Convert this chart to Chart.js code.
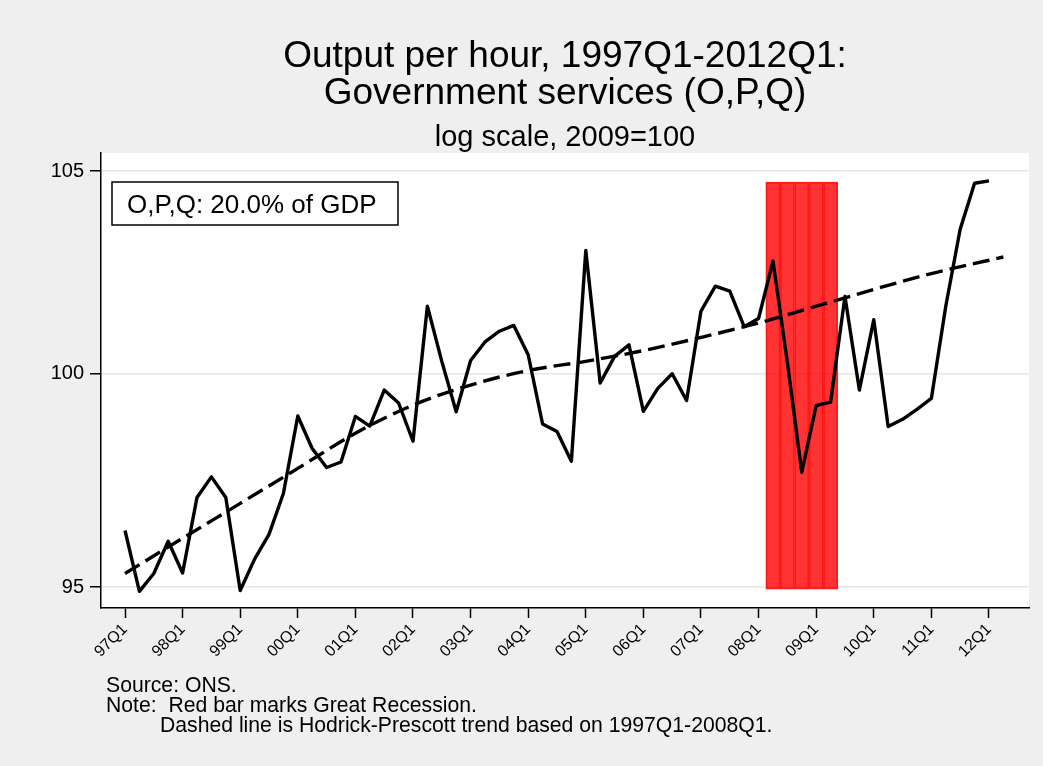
<!DOCTYPE html>
<html>
<head>
<meta charset="utf-8">
<script src="https://cdn.jsdelivr.net/npm/chart.js@4/dist/chart.umd.min.js"></script>
<style>
  html, body { margin: 0; padding: 0; background: #efefef; }
  #wrap { width: 1043px; height: 766px; }
</style>
</head>
<body>
<div id="wrap"><canvas id="chart" width="1043" height="766"></canvas></div>
<script>
// quarterly output per hour, 97Q1 .. 12Q1 (log scale, 2009=100)
const outputPerHour = [
  96.30, 94.90, 95.31, 96.05, 95.32, 97.07, 97.55, 97.07,
  94.92, 95.64, 96.21, 97.16, 98.99, 98.22, 97.77, 97.90,
  98.98, 98.75, 99.61, 99.30, 98.39, 101.64, 100.30, 99.09,
  100.32, 100.77, 101.03, 101.17, 100.46, 98.80, 98.62, 97.92,
  103.01, 99.78, 100.42, 100.70, 99.10, 99.65, 100.00, 99.36,
  101.52, 102.13, 102.01, 101.14, 101.34, 102.75, 100.27, 97.66,
  99.24, 99.32, 101.88, 99.61, 101.31, 98.74, 98.91, 99.15,
  99.41, 101.64, 103.54, 104.69, 104.75
];

// Hodrick-Prescott trend, read at each Q1 (plus 12Q2)
const trendQuarter = [0, 4, 8, 12, 16, 20, 24, 28, 32, 36, 40, 44, 48, 52, 56, 60, 61];
const trendValues = [95.31, 96.12, 96.93, 97.75, 98.58, 99.25, 99.73, 100.08, 100.30,
                     100.56, 100.88, 101.23, 101.64, 102.05, 102.44, 102.77, 102.85];

// Great Recession quarters 08Q2..09Q2 (index from 97Q1)
const recessionQuarter = [45, 46, 47, 48, 49];
const recessionRange = [94.95, 104.72];

const tickLabels = ['97Q1', '98Q1', '99Q1', '00Q1', '01Q1', '02Q1', '03Q1', '04Q1',
                    '05Q1', '06Q1', '07Q1', '08Q1', '09Q1', '10Q1', '11Q1', '12Q1'];
const yTicks = [95, 100, 105];

const FONT = "'Liberation Sans', Arial, Helvetica, sans-serif";

const plotBg = {
  id: 'plotBg',
  beforeDraw(chart) {
    const { ctx, chartArea: a } = chart;
    ctx.save();
    ctx.fillStyle = '#ffffff';
    ctx.fillRect(a.left, a.top, a.right - a.left, a.bottom - a.top);
    ctx.restore();
  }
};

const notes = {
  id: 'notes',
  afterDraw(chart) {
    const ctx = chart.ctx;
    ctx.save();
    // share box
    ctx.fillStyle = '#fff';
    ctx.fillRect(112, 182, 286, 43);
    ctx.strokeStyle = '#000';
    ctx.lineWidth = 1.5;
    ctx.strokeRect(112, 182, 286, 43);
    ctx.fillStyle = '#000';
    ctx.textBaseline = 'alphabetic';
    ctx.font = '26px ' + FONT;
    ctx.fillText('O,P,Q: 20.0% of GDP', 127, 212.5);
    // source / notes
    ctx.font = '21.2px ' + FONT;
    ctx.fillText('Source: ONS.', 106, 692);
    ctx.fillText('Note:  Red bar marks Great Recession.', 106, 712);
    ctx.fillText('Dashed line is Hodrick-Prescott trend based on 1997Q1-2008Q1.', 160, 732);
    ctx.restore();
  }
};

new Chart(document.getElementById('chart'), {
  type: 'line',
  data: {
    datasets: [
      {
        label: 'Output per hour',
        data: outputPerHour.map((v, i) => ({ x: i, y: v })),
        borderColor: '#000',
        borderWidth: 3.4,
        borderJoinStyle: 'round',
        pointRadius: 0,
        tension: 0,
        order: 1
      },
      {
        label: 'HP trend',
        data: trendValues.map((v, i) => ({ x: trendQuarter[i], y: v })),
        borderColor: '#000',
        borderWidth: 3.4,
        borderDash: [17, 7],
        pointRadius: 0,
        cubicInterpolationMode: 'monotone',
        order: 2
      },
      {
        type: 'bar',
        label: 'Great Recession',
        data: recessionQuarter.map(q => ({ x: q, y: recessionRange })),
        backgroundColor: 'rgba(255,0,0,0.8)',
        borderColor: 'rgba(255,0,0,0.85)',
        borderWidth: 1,
        borderSkipped: false,
        barPercentage: 1,
        categoryPercentage: 1,
        order: 3
      }
    ]
  },
  options: {
    responsive: false,
    animation: false,
    events: [],
    layout: { padding: { top: 0, left: 0, right: 14, bottom: 98 } },
    plugins: {
      legend: { display: false },
      tooltip: { enabled: false },
      title: {
        display: true,
        fullSize: false,
        text: ['Output per hour, 1997Q1-2012Q1:', 'Government services (O,P,Q)'],
        color: '#000',
        font: { family: FONT, size: 37, weight: 'normal', lineHeight: 1 },
        padding: { top: 38, bottom: 8 }
      },
      subtitle: {
        display: true,
        fullSize: false,
        text: 'log scale, 2009=100',
        color: '#000',
        font: { family: FONT, size: 29, weight: 'normal', lineHeight: 1 },
        padding: { top: 3, bottom: 1 }
      }
    },
    scales: {
      x: {
        type: 'linear',
        offset: false,
        min: -1.667,
        max: 62.78,
        afterFit(s) { s.height = 60; },
        afterBuildTicks(s) { s.ticks = tickLabels.map((t, i) => ({ value: i * 4 })); },
        ticks: {
          autoSkip: false,
          minRotation: 45,
          maxRotation: 45,
          padding: 2,
          color: '#000',
          font: { family: FONT, size: 16 },
          callback: (v) => tickLabels[v / 4]
        },
        grid: { offset: false, drawOnChartArea: false, tickLength: 10, tickColor: '#000', tickWidth: 1.5 },
        border: { display: true, color: '#000', width: 1.5 }
      },
      y: {
        type: 'logarithmic',
        min: 94.521,
        max: 105.456,
        afterFit(s) { s.width = 101; },
        afterBuildTicks(s) { s.ticks = yTicks.map(v => ({ value: v })); },
        ticks: {
          padding: 6,
          color: '#000',
          font: { family: FONT, size: 20 },
          callback: (v) => String(v)
        },
        grid: { color: '#e6e6e6', lineWidth: 1.5, tickLength: 11, tickColor: '#000', tickWidth: 1.5 },
        border: { display: true, color: '#000', width: 1.5 }
      }
    }
  },
  plugins: [plotBg, notes]
});
</script>
</body>
</html>
